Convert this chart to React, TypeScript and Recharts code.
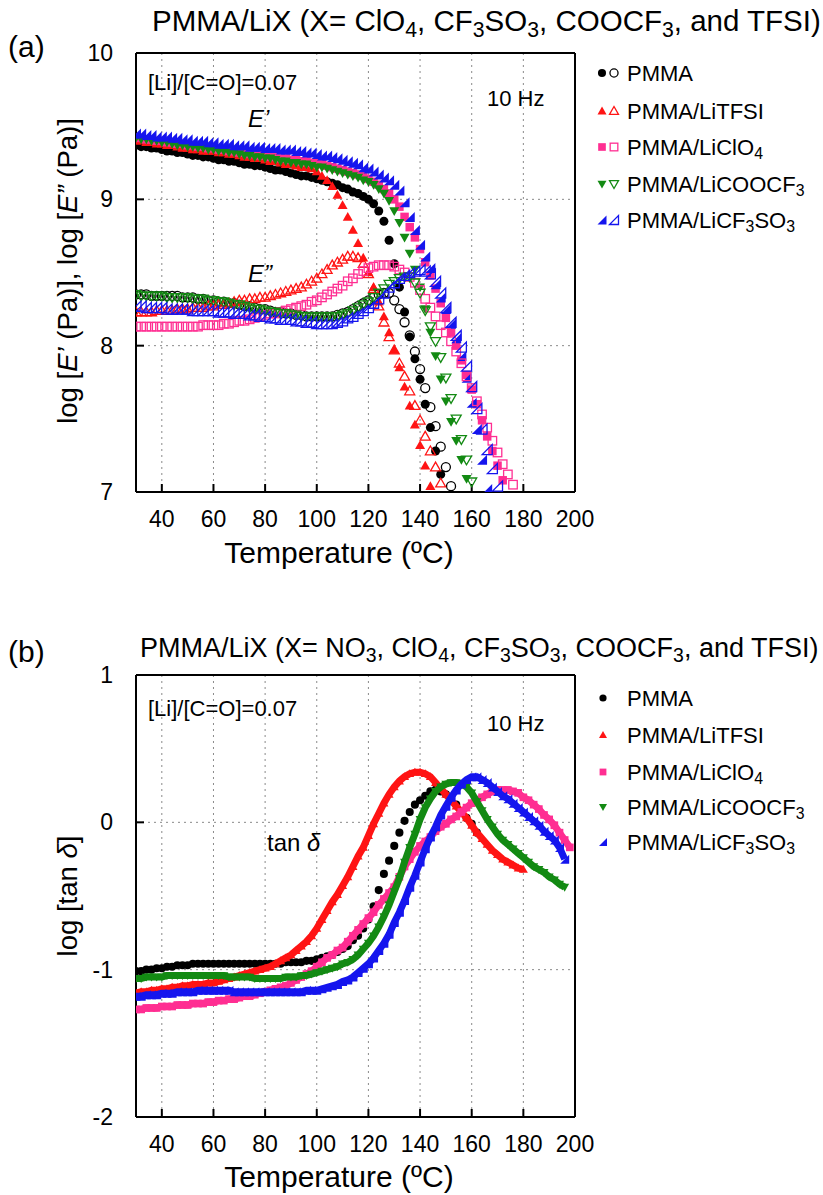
import React from 'react';
import { ScatterChart, Scatter, XAxis, YAxis, CartesianGrid } from 'recharts';

// temperature grid (°C) for both panels
const tempsA = [
  30, 32, 34, 36, 38, 40, 42, 44, 46, 48,
  50, 52, 54, 56, 58, 60, 62, 64, 66, 68,
  70, 72, 74, 76, 78, 80, 82, 84, 86, 88,
  90, 92, 94, 96, 98, 100, 102, 104, 106, 108,
  110, 112, 114, 116, 118, 120, 122, 124, 126, 128,
  130, 132, 134, 136, 138, 140, 142, 144, 146, 148,
  150, 152, 154, 156, 158, 160, 162, 164, 166, 168,
  170, 172, 174, 176,
];
const tempsB = [
  30, 32, 34, 36, 38, 40, 42, 44, 46, 48,
  50, 52, 54, 56, 58, 60, 62, 64, 66, 68,
  70, 72, 74, 76, 78, 80, 82, 84, 86, 88,
  90, 92, 94, 96, 98, 100, 102, 104, 106, 108,
  110, 112, 114, 116, 118, 120, 122, 124, 126, 128,
  130, 132, 134, 136, 138, 140, 142, 144, 146, 148,
  150, 152, 154, 156, 158, 160, 162, 164, 166, 168,
  170, 172, 174, 176, 178, 180, 182, 184, 186, 188,
  190, 192, 194, 196, 198,
];

const xTicks = [40, 60, 80, 100, 120, 140, 160, 180, 200];
const yTicksA = [7, 8, 9, 10];
const yTicksB = [-2, -1, 0, 1];

// panel (a): log E' (filled) and log E'' (open)
const pmmaE1 = [
  9.37, 9.36, 9.36, 9.35, 9.35, 9.34, 9.33, 9.33, 9.32, 9.32,
  9.31, 9.30, 9.30, 9.29, 9.29, 9.28, 9.27, 9.27, 9.26, 9.26,
  9.25, 9.24, 9.24, 9.23, 9.23, 9.22, 9.21, 9.20, 9.20, 9.19,
  9.18, 9.17, 9.16, 9.16, 9.15, 9.14, 9.13, 9.12, 9.11, 9.10,
  9.08, 9.07, 9.05, 9.04, 9.02, 9.00, 8.97, 8.92, 8.85, 8.72,
  8.56, 8.40, 8.23, 8.06, 7.91, 7.77, 7.60, 7.44, 7.28, 7.12,
  null, null, null, null, null, null, null, null, null, null,
  null, null, null, null,
];
const pmmaE2 = [
  8.35, 8.35, 8.35, 8.34, 8.34, 8.34, 8.34, 8.34, 8.34, 8.33,
  8.33, 8.33, 8.32, 8.32, 8.31, 8.31, 8.30, 8.30, 8.29, 8.29,
  8.28, 8.27, 8.27, 8.26, 8.25, 8.25, 8.24, 8.23, 8.23, 8.22,
  8.22, 8.21, 8.21, 8.20, 8.20, 8.20, 8.20, 8.20, 8.20, 8.21,
  8.22, 8.23, 8.25, 8.27, 8.29, 8.31, 8.33, 8.35, 8.36, 8.36,
  8.31, 8.25, 8.16, 8.07, 7.96, 7.84, 7.71, 7.58, 7.45, 7.31,
  7.17, 7.04, null, null, null, null, null, null, null, null,
  null, null, null, null,
];
const tfsiE1 = [
  9.40, 9.40, 9.39, 9.39, 9.38, 9.38, 9.37, 9.37, 9.36, 9.35,
  9.35, 9.34, 9.34, 9.33, 9.33, 9.33, 9.32, 9.32, 9.31, 9.31,
  9.30, 9.29, 9.29, 9.28, 9.28, 9.27, 9.26, 9.26, 9.25, 9.24,
  9.24, 9.23, 9.22, 9.22, 9.21, 9.19, 9.16, 9.13, 9.09, 9.03,
  8.96, 8.88, 8.79, 8.70, 8.60, 8.50, 8.40, 8.30, 8.20, 8.09,
  7.97, 7.85, 7.72, 7.59, 7.46, 7.32, 7.18, 7.04, null, null,
  null, null, null, null, null, null, null, null, null, null,
  null, null, null, null,
];
const tfsiE2 = [
  8.23, 8.23, 8.23, 8.23, 8.24, 8.24, 8.24, 8.24, 8.25, 8.25,
  8.25, 8.26, 8.26, 8.26, 8.27, 8.27, 8.28, 8.28, 8.29, 8.30,
  8.31, 8.31, 8.32, 8.32, 8.33, 8.33, 8.34, 8.35, 8.36, 8.37,
  8.38, 8.39, 8.40, 8.42, 8.44, 8.46, 8.49, 8.52, 8.55, 8.57,
  8.59, 8.61, 8.61, 8.60, 8.56, 8.49, 8.39, 8.27, 8.16, 8.06,
  7.97, 7.88, 7.79, 7.69, 7.59, 7.49, 7.38, 7.28, 7.17, 7.06,
  null, null, null, null, null, null, null, null, null, null,
  null, null, null, null,
];
const clo4E1 = [
  9.42, 9.42, 9.41, 9.41, 9.40, 9.40, 9.39, 9.39, 9.38, 9.38,
  9.37, 9.37, 9.36, 9.36, 9.35, 9.35, 9.34, 9.34, 9.33, 9.33,
  9.32, 9.32, 9.31, 9.31, 9.30, 9.30, 9.29, 9.29, 9.28, 9.28,
  9.27, 9.27, 9.26, 9.26, 9.25, 9.25, 9.24, 9.23, 9.22, 9.21,
  9.20, 9.19, 9.18, 9.17, 9.16, 9.14, 9.12, 9.10, 9.07, 9.04,
  9.00, 8.95, 8.88, 8.81, 8.74, 8.66, 8.57, 8.48, 8.39, 8.29,
  8.19, 8.09, 8.00, 7.90, 7.80, 7.70, 7.60, 7.49, 7.38, 7.28,
  7.18, 7.08, null, null,
];
const clo4E2 = [
  8.13, 8.13, 8.13, 8.13, 8.13, 8.13, 8.13, 8.13, 8.13, 8.13,
  8.13, 8.13, 8.13, 8.14, 8.14, 8.14, 8.14, 8.15, 8.15, 8.16,
  8.17, 8.17, 8.18, 8.19, 8.20, 8.21, 8.22, 8.22, 8.23, 8.24,
  8.25, 8.26, 8.27, 8.28, 8.30, 8.31, 8.33, 8.35, 8.37, 8.39,
  8.41, 8.44, 8.46, 8.49, 8.51, 8.53, 8.54, 8.55, 8.55, 8.55,
  8.54, 8.52, 8.50, 8.47, 8.43, 8.38, 8.32, 8.26, 8.20, 8.14,
  8.09, 8.03, 7.96, 7.88, 7.79, 7.71, 7.62, 7.53, 7.44, 7.35,
  7.27, 7.19, 7.12, 7.05,
];
const coocf3E1 = [
  9.42, 9.41, 9.41, 9.40, 9.40, 9.39, 9.39, 9.38, 9.37, 9.37,
  9.36, 9.36, 9.35, 9.35, 9.34, 9.34, 9.33, 9.33, 9.32, 9.32,
  9.31, 9.30, 9.30, 9.29, 9.29, 9.28, 9.28, 9.27, 9.26, 9.26,
  9.25, 9.25, 9.24, 9.24, 9.23, 9.22, 9.22, 9.21, 9.20, 9.19,
  9.18, 9.17, 9.16, 9.15, 9.13, 9.12, 9.10, 9.07, 9.04, 8.99,
  8.92, 8.84, 8.74, 8.63, 8.52, 8.40, 8.25, 8.09, 7.93, 7.77,
  7.62, 7.48, 7.35, 7.22, 7.09, null, null, null, null, null,
  null, null, null, null,
];
const coocf3E2 = [
  8.35, 8.34, 8.34, 8.34, 8.34, 8.34, 8.33, 8.33, 8.33, 8.33,
  8.33, 8.32, 8.32, 8.32, 8.31, 8.31, 8.30, 8.30, 8.29, 8.28,
  8.28, 8.27, 8.26, 8.25, 8.25, 8.24, 8.23, 8.23, 8.22, 8.22,
  8.21, 8.21, 8.20, 8.20, 8.20, 8.20, 8.20, 8.20, 8.20, 8.20,
  8.21, 8.22, 8.24, 8.26, 8.28, 8.30, 8.33, 8.36, 8.39, 8.42,
  8.44, 8.46, 8.47, 8.47, 8.43, 8.36, 8.24, 8.13, 8.03, 7.92,
  7.78, 7.64, 7.50, 7.36, 7.22, 7.07, null, null, null, null,
  null, null, null, null,
];
const cf3so3E1 = [
  9.45, 9.45, 9.44, 9.44, 9.43, 9.43, 9.43, 9.42, 9.42, 9.41,
  9.41, 9.40, 9.40, 9.40, 9.39, 9.39, 9.38, 9.38, 9.38, 9.37,
  9.37, 9.37, 9.36, 9.36, 9.36, 9.35, 9.35, 9.35, 9.34, 9.34,
  9.34, 9.33, 9.33, 9.32, 9.32, 9.31, 9.30, 9.30, 9.29, 9.28,
  9.27, 9.26, 9.25, 9.24, 9.22, 9.21, 9.19, 9.17, 9.15, 9.13,
  9.10, 9.06, 8.98, 8.88, 8.79, 8.69, 8.61, 8.53, 8.42, 8.33,
  8.25, 8.15, 8.05, 7.93, 7.78, 7.61, 7.43, 7.22, 7.02, null,
  null, null, null, null,
];
const cf3so3E2 = [
  8.27, 8.27, 8.26, 8.26, 8.26, 8.26, 8.25, 8.25, 8.25, 8.25,
  8.25, 8.24, 8.24, 8.24, 8.24, 8.24, 8.23, 8.23, 8.23, 8.22,
  8.22, 8.22, 8.21, 8.21, 8.20, 8.20, 8.19, 8.19, 8.18, 8.18,
  8.18, 8.17, 8.17, 8.16, 8.16, 8.15, 8.15, 8.15, 8.15, 8.16,
  8.17, 8.19, 8.20, 8.22, 8.24, 8.26, 8.29, 8.32, 8.36, 8.40,
  8.43, 8.46, 8.48, 8.50, 8.51, 8.52, 8.51, 8.49, 8.44, 8.36,
  8.26, 8.16, 8.07, 7.99, 7.86, 7.72, 7.57, 7.43, 7.29, 7.16,
  7.04, null, null, null,
];

// panel (b): log tan delta
const pmmaTan = [
  -1.01, -1.01, -1.00, -1.00, -0.99, -0.99, -0.98, -0.98, -0.97, -0.97,
  -0.97, -0.96, -0.96, -0.96, -0.96, -0.96, -0.96, -0.96, -0.96, -0.96,
  -0.96, -0.96, -0.96, -0.96, -0.96, -0.96, -0.96, -0.96, -0.96, -0.95,
  -0.95, -0.95, -0.95, -0.94, -0.94, -0.93, -0.92, -0.91, -0.90, -0.88,
  -0.86, -0.84, -0.80, -0.77, -0.72, -0.66, -0.57, -0.46, -0.35, -0.26,
  -0.16, -0.07, 0.01, 0.07, 0.12, 0.15, 0.18, 0.21, 0.22, 0.21,
  0.19, 0.16, 0.12, 0.07, 0.03, -0.01, -0.07, null, null, null,
  null, null, null, null, null, null, null, null, null, null,
  null, null, null, null, null,
];
const tfsiTan = [
  -1.16, -1.15, -1.15, -1.14, -1.14, -1.13, -1.13, -1.12, -1.12, -1.11,
  -1.11, -1.10, -1.10, -1.10, -1.09, -1.09, -1.08, -1.07, -1.06, -1.05,
  -1.04, -1.03, -1.02, -1.01, -1.00, -0.99, -0.98, -0.96, -0.94, -0.92,
  -0.90, -0.87, -0.84, -0.81, -0.77, -0.72, -0.66, -0.60, -0.54, -0.49,
  -0.43, -0.37, -0.30, -0.23, -0.17, -0.09, -0.01, 0.06, 0.13, 0.19,
  0.24, 0.28, 0.31, 0.33, 0.34, 0.34, 0.33, 0.31, 0.27, 0.23,
  0.19, 0.15, 0.11, 0.07, 0.03, -0.02, -0.07, -0.11, -0.15, -0.19,
  -0.22, -0.25, -0.27, -0.29, -0.31, -0.32, null, null, null, null,
  null, null, null, null, null,
];
const clo4Tan = [
  -1.27, -1.27, -1.26, -1.26, -1.26, -1.25, -1.25, -1.25, -1.24, -1.24,
  -1.24, -1.23, -1.23, -1.23, -1.22, -1.22, -1.21, -1.21, -1.20, -1.20,
  -1.19, -1.18, -1.18, -1.17, -1.16, -1.15, -1.14, -1.13, -1.12, -1.11,
  -1.09, -1.07, -1.05, -1.03, -1.01, -0.98, -0.95, -0.92, -0.90, -0.87,
  -0.85, -0.81, -0.77, -0.73, -0.69, -0.65, -0.61, -0.56, -0.52, -0.48,
  -0.44, -0.37, -0.30, -0.25, -0.20, -0.16, -0.13, -0.10, -0.06, -0.03,
  -0.01, 0.02, 0.04, 0.07, 0.10, 0.13, 0.15, 0.17, 0.19, 0.21,
  0.22, 0.22, 0.22, 0.21, 0.20, 0.17, 0.15, 0.12, 0.09, 0.05,
  0.02, -0.02, -0.07, -0.12, -0.17,
];
const coocf3Tan = [
  -1.06, -1.06, -1.05, -1.05, -1.05, -1.05, -1.04, -1.04, -1.04, -1.04,
  -1.04, -1.04, -1.04, -1.04, -1.04, -1.04, -1.04, -1.04, -1.05, -1.05,
  -1.05, -1.05, -1.05, -1.06, -1.06, -1.06, -1.06, -1.06, -1.06, -1.05,
  -1.05, -1.05, -1.04, -1.04, -1.03, -1.02, -1.01, -1.00, -0.99, -0.98,
  -0.96, -0.95, -0.93, -0.90, -0.86, -0.82, -0.77, -0.71, -0.64, -0.56,
  -0.47, -0.38, -0.27, -0.17, -0.08, 0.02, 0.10, 0.16, 0.21, 0.24,
  0.26, 0.27, 0.27, 0.26, 0.24, 0.20, 0.14, 0.08, 0.02, -0.03,
  -0.08, -0.12, -0.15, -0.18, -0.21, -0.24, -0.27, -0.30, -0.32, -0.34,
  -0.37, -0.39, -0.42, -0.44, null,
];
const cf3so3Tan = [
  -1.18, -1.18, -1.17, -1.17, -1.17, -1.16, -1.16, -1.16, -1.15, -1.15,
  -1.15, -1.15, -1.14, -1.14, -1.14, -1.14, -1.14, -1.14, -1.14, -1.15,
  -1.15, -1.15, -1.15, -1.15, -1.15, -1.15, -1.15, -1.15, -1.15, -1.15,
  -1.15, -1.15, -1.15, -1.14, -1.14, -1.14, -1.13, -1.12, -1.11, -1.10,
  -1.08, -1.07, -1.05, -1.02, -0.99, -0.96, -0.92, -0.87, -0.82, -0.76,
  -0.68, -0.61, -0.53, -0.44, -0.36, -0.27, -0.18, -0.10, -0.03, 0.05,
  0.11, 0.17, 0.22, 0.26, 0.29, 0.31, 0.31, 0.29, 0.27, 0.24,
  0.21, 0.18, 0.16, 0.13, 0.10, 0.07, 0.04, 0.01, -0.02, -0.06,
  -0.09, -0.12, -0.17, -0.25, null,
];

const FONT = "'Liberation Sans', Arial, Helvetica, sans-serif";
const RED = '#ff1414';
const PINK = '#ff2e92';
const GREEN = '#138a13';
const BLUE = '#1515ee';
const BLACK = '#000000';

type Kind = 'circle' | 'tri' | 'square' | 'tridown' | 'wedge';

function toPoints(temps: number[], vals: (number | null)[]) {
  const out: { t: number; v: number }[] = [];
  vals.forEach((v, i) => {
    if (v !== null) out.push({ t: temps[i], v });
  });
  return out;
}

function Marker({ kind, cx, cy, size, color, open }: {
  kind: Kind; cx: number; cy: number; size: number; color: string; open?: boolean;
}) {
  if (cx == null || cy == null) return null;
  const h = size / 2;
  const paint = open
    ? { fill: 'none', stroke: color, strokeWidth: 1.3 }
    : { fill: color, stroke: 'none' };
  switch (kind) {
    case 'circle':
      return <circle cx={cx} cy={cy} r={h * 0.9} {...paint} />;
    case 'square':
      return <rect x={cx - h * 0.85} y={cy - h * 0.85} width={size * 0.85} height={size * 0.85} {...paint} />;
    case 'tri':
      return <polygon points={`${cx},${cy - h} ${cx - h},${cy + h * 0.75} ${cx + h},${cy + h * 0.75}`} {...paint} />;
    case 'tridown':
      return <polygon points={`${cx},${cy + h} ${cx - h},${cy - h * 0.75} ${cx + h},${cy - h * 0.75}`} {...paint} />;
    default:
      return <polygon points={`${cx + h},${cy - h} ${cx + h},${cy + h} ${cx - h},${cy + h}`} {...paint} />;
  }
}

const seriesA = [
  { name: 'PMMA', color: BLACK, kind: 'circle' as Kind, e1: pmmaE1, e2: pmmaE2 },
  { name: 'PMMA/LiTFSI', color: RED, kind: 'tri' as Kind, e1: tfsiE1, e2: tfsiE2 },
  { name: 'PMMA/LiClO4', color: PINK, kind: 'square' as Kind, e1: clo4E1, e2: clo4E2 },
  { name: 'PMMA/LiCOOCF3', color: GREEN, kind: 'tridown' as Kind, e1: coocf3E1, e2: coocf3E2 },
  { name: 'PMMA/LiCF3SO3', color: BLUE, kind: 'wedge' as Kind, e1: cf3so3E1, e2: cf3so3E2 },
];

const seriesB = [
  { name: 'PMMA', color: BLACK, kind: 'circle' as Kind, vals: pmmaTan },
  { name: 'PMMA/LiTFSI', color: RED, kind: 'tri' as Kind, vals: tfsiTan },
  { name: 'PMMA/LiClO4', color: PINK, kind: 'square' as Kind, vals: clo4Tan },
  { name: 'PMMA/LiCOOCF3', color: GREEN, kind: 'tridown' as Kind, vals: coocf3Tan },
  { name: 'PMMA/LiCF3SO3', color: BLUE, kind: 'wedge' as Kind, vals: cf3so3Tan },
];

const tickStyle = { fill: '#000', fontSize: 23, fontFamily: FONT };
const frame = { stroke: '#000', strokeWidth: 2 };
const SUB = { baselineShift: '-28%', fontSize: '72%' } as any;

// legend label with chemical subscripts
function Label({ name }: { name: string }) {
  const parts = name.split(/(\d)/).filter((p) => p !== '');
  return (
    <>
      {parts.map((p, i) =>
        /\d/.test(p) ? <tspan key={i} {...SUB}>{p}</tspan> : <tspan key={i}>{p}</tspan>
      )}
    </>
  );
}

function axes(yDomain: number[], yTicks: number[]) {
  return [
    <CartesianGrid key="g" stroke="#8a8a8a" strokeDasharray="2 4" strokeWidth={1} />,
    <XAxis key="xb" type="number" dataKey="t" domain={[30, 200]} ticks={xTicks} allowDataOverflow
      height={30} tickSize={-8} tickMargin={27} tick={tickStyle} axisLine={frame} tickLine={frame} />,
    <XAxis key="xt" xAxisId="top" orientation="top" type="number" domain={[30, 200]} ticks={xTicks}
      allowDataOverflow height={1} tickSize={-8} tick={false} axisLine={frame} tickLine={frame} />,
    <YAxis key="yl" type="number" dataKey="v" domain={yDomain} ticks={yTicks} allowDataOverflow
      width={60} tickSize={-8} tickMargin={31} tick={tickStyle} axisLine={frame} tickLine={frame} />,
    <YAxis key="yr" yAxisId="right" orientation="right" type="number" domain={yDomain} ticks={yTicks}
      allowDataOverflow width={1} tickSize={-8} tick={false} axisLine={frame} tickLine={frame} />,
  ];
}

export default function App() {
  const legendA = [73, 111, 147, 184, 220];
  const legendB = [698, 735, 772, 807, 842];
  return (
    <div style={{ position: 'absolute', left: 0, top: 0, width: 823, height: 1195, background: '#fff', fontFamily: FONT }}>
      <div style={{ position: 'absolute', left: 0, top: 0 }}>
        <ScatterChart width={823} height={600} margin={{ top: 52, right: 247, bottom: 78, left: 76 }}>
          {axes([7, 10], yTicksA)}
          {seriesA.map((s) => (
            <Scatter key={s.name + 'e1'} data={toPoints(tempsA, s.e1)} isAnimationActive={false}
              shape={(p: any) => <Marker kind={s.kind} cx={p.cx} cy={p.cy} size={10} color={s.color} />} />
          ))}
          {seriesA.map((s) => (
            <Scatter key={s.name + 'e2'} data={toPoints(tempsA, s.e2)} isAnimationActive={false}
              shape={(p: any) => <Marker kind={s.kind} cx={p.cx} cy={p.cy} size={10} color={s.color} open />} />
          ))}
        </ScatterChart>
      </div>
      <div style={{ position: 'absolute', left: 0, top: 620 }}>
        <ScatterChart width={823} height={575} margin={{ top: 54, right: 247, bottom: 48, left: 76 }}>
          {axes([-2, 1], yTicksB)}
          {seriesB.map((s) => (
            <Scatter key={s.name} data={toPoints(tempsB, s.vals)} isAnimationActive={false}
              line={s.color === BLACK ? false : { stroke: s.color, strokeWidth: 7 }}
              lineType="joint"
              shape={(p: any) => <Marker kind={s.kind} cx={p.cx} cy={p.cy} size={9} color={s.color} />} />
          ))}
        </ScatterChart>
      </div>
      <svg width={823} height={1195} style={{ position: 'absolute', left: 0, top: 0, pointerEvents: 'none' }}
        fontFamily={FONT} fill="#000">
        {/* panel (a) */}
        <text x={8} y={57} fontSize={30}>(a)</text>
        <text x={152} y={31} fontSize={29.5}>
          PMMA/LiX (X= ClO<tspan {...SUB}>4</tspan>, CF<tspan {...SUB}>3</tspan>SO<tspan {...SUB}>3</tspan>, COOCF<tspan {...SUB}>3</tspan>, and TFSI)
        </text>
        <text x={148} y={90} fontSize={22}>[Li]/[C=O]=0.07</text>
        <text x={487} y={106} fontSize={22}>10 Hz</text>
        <text x={248} y={127} fontSize={24} fontStyle="italic">E’</text>
        <text x={248} y={282} fontSize={24} fontStyle="italic">E”</text>
        <text transform="translate(77,271) rotate(-90)" textAnchor="middle" fontSize={27.5}>
          log [<tspan fontStyle="italic">E’</tspan> (Pa)], log [<tspan fontStyle="italic">E”</tspan> (Pa)]
        </text>
        <text x={339} y={563} textAnchor="middle" fontSize={30}>Temperature (ºC)</text>
        {seriesA.map((s, i) => (
          <g key={s.name}>
            <Marker kind={s.kind} cx={602} cy={legendA[i]} size={9} color={s.color} />
            <Marker kind={s.kind} cx={614} cy={legendA[i]} size={9} color={s.color} open />
            <text x={627} y={legendA[i] + 8} fontSize={22}><Label name={s.name} /></text>
          </g>
        ))}

        {/* panel (b) */}
        <text x={8} y={662} fontSize={30}>(b)</text>
        <text x={140} y={657} fontSize={27}>
          PMMA/LiX (X= NO<tspan {...SUB}>3</tspan>, ClO<tspan {...SUB}>4</tspan>, CF<tspan {...SUB}>3</tspan>SO<tspan {...SUB}>3</tspan>, COOCF<tspan {...SUB}>3</tspan>, and TFSI)
        </text>
        <text x={148} y={716} fontSize={22}>[Li]/[C=O]=0.07</text>
        <text x={487} y={731} fontSize={22}>10 Hz</text>
        <text x={267} y={851} fontSize={24}>tan <tspan fontStyle="italic">δ</tspan></text>
        <text transform="translate(77,896) rotate(-90)" textAnchor="middle" fontSize={27.5}>
          log [tan <tspan fontStyle="italic">δ</tspan>]
        </text>
        <text x={339} y={1187} textAnchor="middle" fontSize={30}>Temperature (ºC)</text>
        {seriesB.map((s, i) => (
          <g key={s.name}>
            <Marker kind={s.kind} cx={603} cy={legendB[i]} size={8} color={s.color} />
            <text x={627} y={legendB[i] + 8} fontSize={22}><Label name={s.name} /></text>
          </g>
        ))}
      </svg>
    </div>
  );
}
